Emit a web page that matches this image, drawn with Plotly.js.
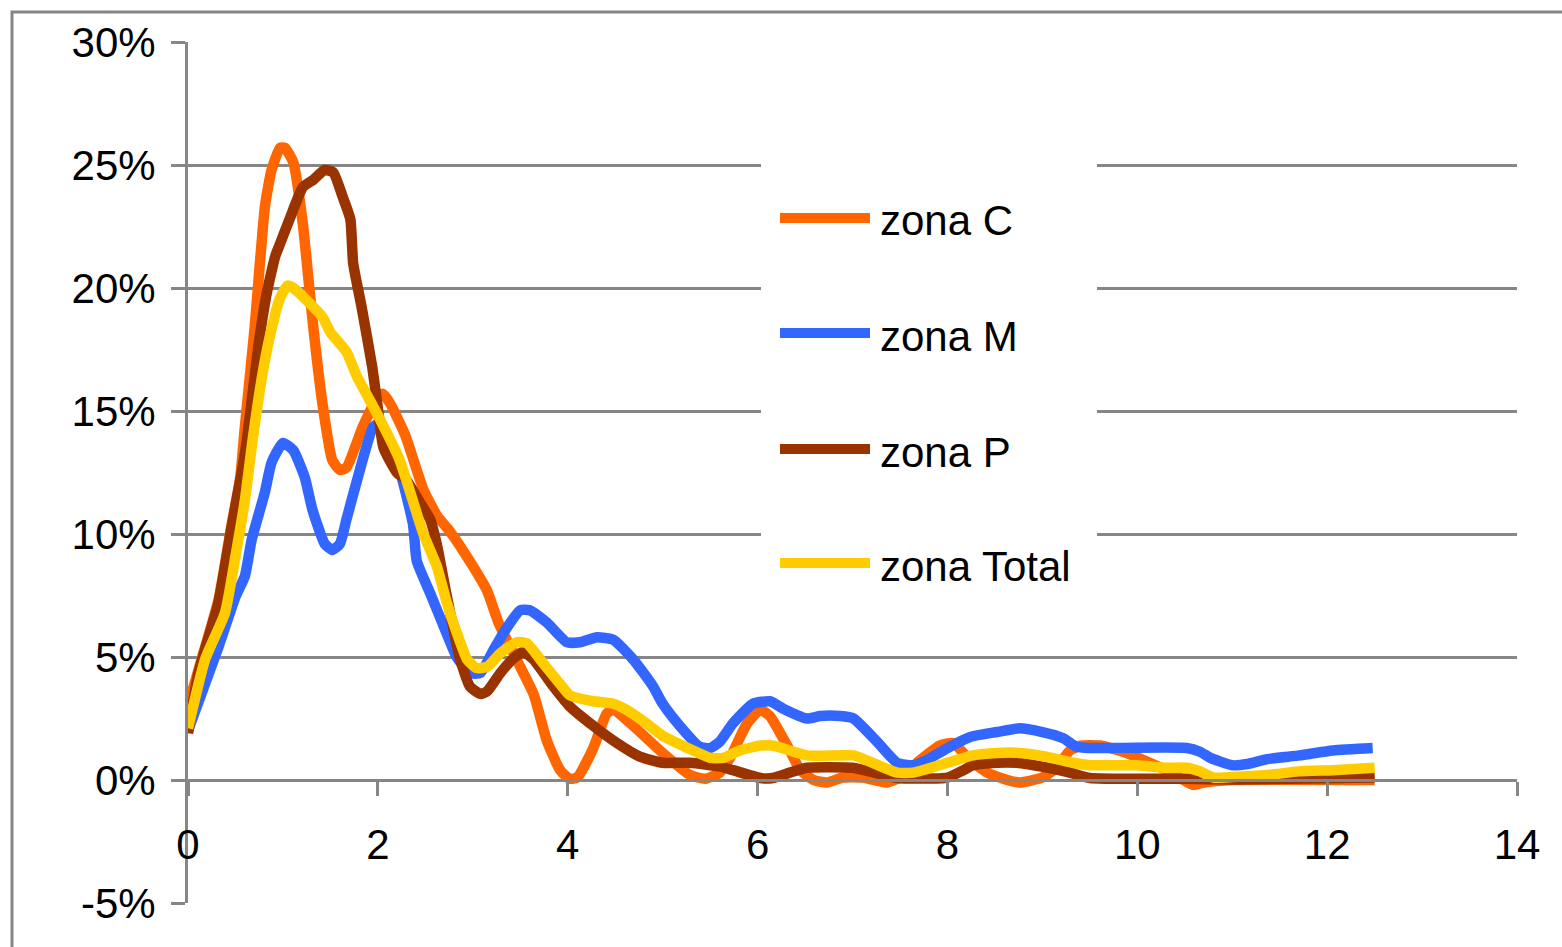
<!DOCTYPE html>
<html><head><meta charset="utf-8">
<script src="https://cdn.plot.ly/plotly-3.0.1.min.js"></script>
<style>html,body{margin:0;padding:0;background:#fff;}#chart{width:1562px;height:947px;}</style>
</head><body><div id="chart"></div>
<script>
const seriesNames = ['zona C', 'zona M', 'zona P', 'zona Total'];
const seriesColors = ['#FF6600', '#3366FF', '#993300', '#FFCC00'];

const xC = [0, 0.15, 0.32, 0.46, 0.55, 0.6, 0.7, 0.81, 0.88, 0.97, 1.02, 1.11, 1.21, 1.25, 1.32, 1.42, 1.52, 1.6, 1.67, 1.84, 1.99, 2.05, 2.13, 2.29, 2.48, 2.63, 2.76, 3.0, 3.15, 3.27, 3.5, 3.64, 3.78, 3.92, 4.02, 4.1, 4.27, 4.41, 4.48, 4.69, 5.0, 5.29, 5.45, 5.6, 5.71, 5.89, 6.03, 6.13, 6.24, 6.34, 6.45, 6.59, 6.73, 6.9, 7.11, 7.36, 7.5, 7.71, 7.92, 8.06, 8.24, 8.42, 8.63, 8.76, 9.0, 9.15, 9.29, 9.4, 9.61, 9.89, 10.13, 10.31, 10.59, 10.7, 11.0, 12.5];
const yC = [3.0, 5.0, 7.3, 10.4, 12.3, 14.4, 18.3, 23.3, 24.8, 25.7, 25.7, 25.1, 22.6, 21.1, 18.4, 15.2, 13.0, 12.6, 12.7, 14.35, 15.5, 15.7, 15.3, 14.0, 11.8, 10.7, 10.1, 8.7, 7.7, 6.4, 4.6, 3.5, 1.6, 0.4, 0.05, 0.1, 1.3, 2.7, 2.85, 2.2, 1.1, 0.2, 0.05, 0.3, 0.9, 2.3, 2.85, 2.6, 1.9, 1.2, 0.4, 0.0, -0.1, 0.1, 0.1, -0.1, 0.1, 0.8, 1.4, 1.5, 0.8, 0.3, 0.0, -0.1, 0.1, 0.5, 1.2, 1.4, 1.4, 1.1, 0.7, 0.4, -0.2, -0.1, 0.0, 0.0];

const xM = [0, 0.32, 0.5, 0.6, 0.67, 0.81, 0.88, 1.0, 1.11, 1.23, 1.31, 1.44, 1.52, 1.6, 1.67, 1.81, 1.95, 2.02, 2.09, 2.23, 2.37, 2.41, 2.55, 2.72, 2.83, 2.97, 3.08, 3.22, 3.36, 3.5, 3.6, 3.78, 3.99, 4.13, 4.31, 4.48, 4.69, 4.9, 5.0, 5.18, 5.39, 5.5, 5.6, 5.74, 5.95, 6.13, 6.27, 6.52, 6.66, 6.87, 7.01, 7.26, 7.47, 7.64, 7.78, 8.0, 8.24, 8.52, 8.76, 9.0, 9.22, 9.36, 9.5, 10.52, 10.66, 10.77, 11.0, 11.16, 11.37, 11.71, 12.06, 12.48];
const yM = [2.0, 5.4, 7.45, 8.3, 9.75, 11.7, 12.9, 13.7, 13.4, 12.3, 11.0, 9.6, 9.35, 9.6, 10.6, 12.6, 14.35, 14.5, 14.0, 12.6, 10.4, 8.9, 7.6, 6.0, 5.0, 4.35, 4.35, 5.3, 6.2, 6.9, 6.9, 6.4, 5.6, 5.6, 5.8, 5.7, 4.9, 3.8, 3.1, 2.2, 1.35, 1.3, 1.55, 2.3, 3.1, 3.2, 2.9, 2.5, 2.6, 2.6, 2.5, 1.55, 0.7, 0.6, 0.8, 1.3, 1.75, 1.95, 2.1, 1.95, 1.7, 1.35, 1.3, 1.3, 1.15, 0.9, 0.6, 0.65, 0.85, 1.0, 1.2, 1.3];

const xP = [0, 0.11, 0.32, 0.46, 0.57, 0.62, 0.74, 0.83, 0.92, 0.97, 1.07, 1.21, 1.32, 1.44, 1.53, 1.63, 1.71, 1.74, 1.83, 1.94, 1.99, 2.06, 2.2, 2.3, 2.44, 2.55, 2.62, 2.72, 2.86, 2.97, 3.08, 3.15, 3.29, 3.43, 3.53, 3.64, 3.85, 4.02, 4.27, 4.52, 4.76, 5.0, 5.29, 5.6, 5.74, 6.03, 6.16, 6.34, 6.52, 7.0, 7.18, 7.47, 8.0, 8.17, 8.27, 8.52, 8.73, 9.05, 9.29, 9.5, 10.5, 11.0, 12.5];
const yP = [1.9, 4.35, 7.2, 10.3, 12.6, 13.8, 17.6, 19.8, 21.3, 21.8, 22.8, 24.1, 24.4, 24.8, 24.7, 23.7, 22.8, 21.0, 19.2, 16.8, 15.4, 13.5, 12.5, 12.2, 11.3, 10.6, 9.6, 7.6, 5.0, 3.8, 3.5, 3.6, 4.35, 4.95, 5.2, 4.9, 3.8, 3.0, 2.2, 1.5, 0.95, 0.7, 0.7, 0.55, 0.4, 0.08, 0.08, 0.3, 0.5, 0.5, 0.35, 0.08, 0.1, 0.4, 0.6, 0.7, 0.7, 0.5, 0.3, 0.08, 0.05, 0.02, 0.1];

const xT = [0, 0.18, 0.39, 0.5, 0.6, 0.68, 0.78, 0.86, 0.97, 1.05, 1.11, 1.25, 1.42, 1.5, 1.67, 1.78, 1.99, 2.23, 2.48, 2.62, 2.72, 2.83, 2.94, 3.04, 3.15, 3.29, 3.46, 3.57, 3.74, 3.92, 4.02, 4.27, 4.48, 4.62, 4.83, 5.0, 5.32, 5.5, 5.64, 5.81, 6.03, 6.16, 6.52, 7.01, 7.15, 7.47, 7.64, 8.0, 8.27, 8.52, 8.76, 9.04, 9.32, 9.5, 10.0, 10.27, 10.52, 10.66, 10.8, 11.0, 11.37, 11.7, 12.06, 12.5];
const yT = [2.1, 4.9, 6.8, 9.1, 11.4, 13.8, 16.4, 18.0, 19.6, 20.1, 20.0, 19.5, 18.8, 18.2, 17.4, 16.4, 14.9, 13.0, 10.0, 8.7, 7.3, 6.0, 4.9, 4.55, 4.6, 5.15, 5.6, 5.55, 4.75, 3.9, 3.45, 3.2, 3.1, 2.85, 2.3, 1.8, 1.2, 0.9, 0.9, 1.2, 1.4, 1.4, 1.0, 1.0, 0.8, 0.3, 0.3, 0.7, 1.0, 1.1, 1.1, 0.95, 0.7, 0.6, 0.6, 0.5, 0.5, 0.35, 0.1, 0.12, 0.2, 0.35, 0.4, 0.5];

const yTickVals = [-5, 0, 5, 10, 15, 20, 25, 30];
const xTickVals = [0, 2, 4, 6, 8, 10, 12, 14];

const xs = [xC, xM, xP, xT];
const ys = [yC, yM, yP, yT];

const FONT = 'Liberation Sans, Arial, sans-serif';
const GRID = '#868686';

const traces = seriesNames.map((n, i) => ({
  type: 'scatter', mode: 'lines', name: n,
  x: xs[i], y: ys[i],
  line: {color: seriesColors[i], width: 10.5, shape: 'spline', smoothing: 0.5},
  showlegend: false, hoverinfo: 'x+y+name'
}));

// pixel helpers for layout placement (plot area 188..1517 x, 42..903 y)
const L = 188, R = 1517, T = 42, B = 903;
const px = v => (v - L) / (R - L);
const py = v => (B - v) / (B - T);

const shapes = [
  {type: 'rect', xref: 'paper', yref: 'paper', x0: px(12), x1: px(1600), y0: py(990), y1: py(12),
   line: {color: GRID, width: 3}, fillcolor: 'rgba(0,0,0,0)', layer: 'below'},
  {type: 'rect', xref: 'paper', yref: 'paper', x0: px(761), x1: px(1097), y0: py(600), y1: py(145),
   line: {width: 0}, fillcolor: '#ffffff', layer: 'above'}
];
const legendY = [218, 333, 449, 563];
const annotations = [];
seriesNames.forEach((n, i) => {
  shapes.push({type: 'line', xref: 'paper', yref: 'paper', x0: px(780), x1: px(870), y0: py(legendY[i]), y1: py(legendY[i]),
    line: {color: seriesColors[i], width: 10}, layer: 'above'});
  annotations.push({xref: 'paper', yref: 'paper', x: px(878), y: py(legendY[i] + 3), xanchor: 'left', yanchor: 'middle',
    text: n, showarrow: false, font: {family: FONT, size: 42, color: '#000'}});
});

const layout = {
  width: 1562, height: 947,
  margin: {l: L, r: 1562 - R, t: T, b: 947 - B, pad: 0},
  paper_bgcolor: '#fff', plot_bgcolor: '#fff',
  showlegend: false,
  font: {family: FONT, size: 42, color: '#000'},
  xaxis: {
    range: [0, 14], tickvals: xTickVals, ticktext: xTickVals.map(String),
    anchor: 'free', position: 5 / 35,
    showline: true, linecolor: GRID, linewidth: 3,
    ticks: 'outside', ticklen: 14, tickwidth: 3, tickcolor: GRID,
    showgrid: false, zeroline: false,
    tickfont: {family: FONT, size: 42, color: '#000'},
    ticklabelstandoff: 13
  },
  yaxis: {
    range: [-5, 30], tickvals: yTickVals, ticktext: yTickVals.map(v => v + '%'),
    showline: true, linecolor: GRID, linewidth: 3,
    ticks: 'outside', ticklen: 14, tickwidth: 3, tickcolor: GRID,
    showgrid: true, gridcolor: GRID, gridwidth: 3, zeroline: false,
    tickfont: {family: FONT, size: 42, color: '#000'},
    ticklabelstandoff: 7
  },
  shapes: shapes,
  annotations: annotations
};

Plotly.newPlot('chart', traces, layout, {displayModeBar: false, staticPlot: true});
</script>
</body></html>
